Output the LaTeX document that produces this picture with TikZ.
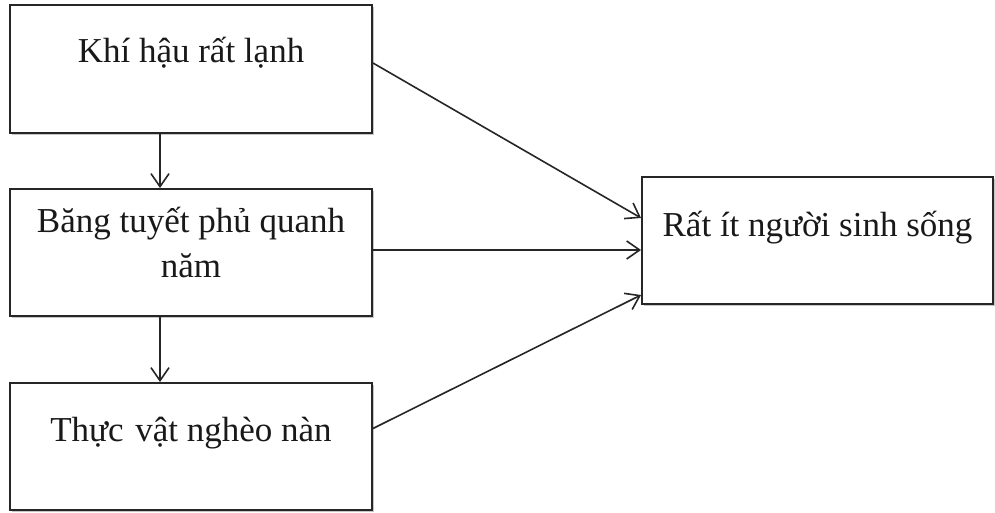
\documentclass[tikz,border=0pt]{standalone}
\usepackage{fontspec}
\setmainfont{Liberation Serif}
\usetikzlibrary{arrows.meta,shadows}
\begin{document}
\begin{tikzpicture}[x=1pt,y=1pt,
  box/.style={draw=black!85,line width=1.9pt,fill=white,rectangle,inner sep=0pt,
    drop shadow={shadow xshift=2pt,shadow yshift=-2pt,opacity=0.45,fill=black!50}},
  lbl/.style={font=\fontsize{35}{45}\selectfont,text=black!90,anchor=base,align=center,inner sep=0pt},
  conn/.style={draw=black!85,line width=1.6pt,-{Straight Barb[length=13pt,width=18pt,line width=1.6pt]}}]
\useasboundingbox (0,0) rectangle (995,512);
\node[box,minimum width=362pt,minimum height=128pt] (b1) at (191,443) {};
\node[box,minimum width=362pt,minimum height=127pt] (b2) at (191,259.5) {};
\node[box,minimum width=362pt,minimum height=127pt] (b3) at (191,65.5) {};
\node[box,minimum width=351pt,minimum height=127pt] (b4) at (817.5,271.5) {};
\node[lbl] (t1) at ([yshift=-58pt]b1.north) {Khí hậu rất lạnh};
\node[lbl] (t2) at ([yshift=-89pt]b2.north) {Băng tuyết phủ quanh\\năm};
\node[lbl] (t3) at ([yshift=-59pt]b3.north) {Thực\,\,vật nghèo nàn};
\node[lbl] (t4) at ([yshift=-60pt]b4.north) {Rất ít người sinh sống};
\draw[conn] (b1.south -| 160,0) -- (b2.north -| 160,0);
\draw[conn] (b2.south -| 160,0) -- (b3.north -| 160,0);
\draw[conn] ([yshift=6pt]b1.east) -- ([yshift=22.5pt]b4.west);
\draw[conn] ([yshift=2.5pt]b2.east) -- ([yshift=-9.5pt]b4.west);
\draw[conn] ([yshift=18pt]b3.east) -- ([yshift=-54.5pt]b4.west);
\end{tikzpicture}
\end{document}
